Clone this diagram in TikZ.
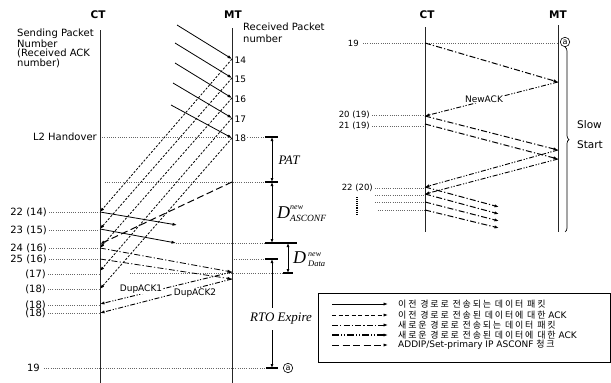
\documentclass[tikz,border=0pt]{standalone}
\usepackage{fontspec}
\setmainfont{DejaVu Sans}
\newfontfamily\krf[LetterSpace=20]{Noto Sans CJK KR}
\newfontfamily\tms{Liberation Serif}
\usetikzlibrary{arrows.meta,decorations.pathreplacing}
\tikzset{
 lane/.style={line width=1pt, black!85},
 tip/.style={-{Latex[length=4.5pt,width=3.2pt]}},
 olddata/.style={tip, line width=0.8pt},
 oldack/.style={tip, line width=0.8pt, dash pattern=on 2.2pt off 1.6pt},
 newdata/.style={tip, line width=0.8pt, dash pattern=on 6pt off 2.2pt on 1.2pt off 2.2pt},
 newack/.style={tip, line width=0.9pt, dash pattern=on 5pt off 1.8pt on 1.2pt off 1.5pt on 1.2pt off 1.8pt},
 asconf/.style={tip, line width=1pt, dash pattern=on 7pt off 3.5pt},
 guide/.style={line width=0.45pt, black!60, dash pattern=on 1pt off 1.2pt},
 tick/.style={line width=1.1pt},
 dim/.style={line width=1pt, {Latex[length=4pt,width=3pt]}-{Latex[length=4pt,width=3pt]}},
 lbl/.style={inner sep=0pt, font=\fontsize{10}{11}\selectfont},
 nlbl/.style={inner sep=0.5pt, fill=white, anchor=west, font=\fontsize{9}{10}\selectfont},
 slbl/.style={inner sep=0pt, font=\fontsize{8.5}{9}\selectfont},
 head/.style={inner sep=0pt, font=\fontsize{10.5}{11}\selectfont\bfseries},
 onl/.style={fill=white, inner sep=0.8pt, font=\fontsize{9}{10}\selectfont},
 circ/.style={circle, draw, line width=0.6pt, inner sep=0.5pt, minimum size=9.5pt, font=\fontsize{8}{8}\selectfont},
 tim/.style={inner sep=0pt, font=\tms\itshape\fontsize{13}{14}\selectfont},
 leg/.style={inner sep=0pt, anchor=west, font=\fontsize{9}{10}\selectfont},
}
\begin{document}
\begin{tikzpicture}[x=1pt,y=-1pt]
\useasboundingbox (0,0) rectangle (611,383);

% ---------------- LEFT DIAGRAM ----------------
\node[head] (ctL) at (98,15) {CT};
\node[head] (mtL) at (233,15) {MT};
\coordinate (cLt) at (100,30); \coordinate (cLb) at (100,383);
\coordinate (mLt) at (232,28); \coordinate (mLb) at (232,383);

\node[lbl, anchor=north west, align=left, font=\fontsize{10}{9.4}\selectfont] (sendlbl) at (17,29)
 {Sending Packet\\Number\\(Received ACK\\number)};
\node[lbl, anchor=north west, align=left, font=\fontsize{10}{11.7}\selectfont] (recvlbl) at (243,23)
 {Received Packet\\number};
\node[lbl, anchor=east] (l2) at (97,137) {L2 Handover};

% CT-side labels
\node[lbl, anchor=east] (l22) at (47,212) {22 (14)};
\node[lbl, anchor=east] (l23) at (47,230) {23 (15)};
\node[lbl, anchor=east] (l24) at (47,248) {24 (16)};
\node[lbl, anchor=east] (l25) at (47,259) {25 (16)};
\node[lbl, anchor=east] (l17) at (46,274) {(17)};
\node[lbl, anchor=east] (l18a) at (46,289) {(18)};
\node[lbl, anchor=east] (l18b) at (46,305) {(18)};
\node[lbl, anchor=east] (l18c) at (46,313) {(18)};
\node[lbl, anchor=east] (l19) at (40,368) {19};

% points
\coordinate (c212) at (100,212);
\coordinate (c229) at (100,229);
\coordinate (c244) at (100,244);
\coordinate (c248) at (100,248);
\coordinate (c259) at (100,259);
\coordinate (c272) at (100,271);
\coordinate (c289) at (100,289);
\coordinate (c304) at (100,304);
\coordinate (c313) at (100,313);
\coordinate (c137) at (100,137);
\coordinate (m59) at (232,59);
\coordinate (m78) at (232,78);
\coordinate (m98) at (232,98);
\coordinate (m118) at (232,118);
\coordinate (m138) at (232,138);
\coordinate (m182) at (232,182);
\coordinate (m259) at (232,259);
\coordinate (m272) at (232,272);
\coordinate (m279) at (232,279);
\coordinate (s14) at (177,25);
\coordinate (s15) at (175,43);
\coordinate (s16) at (175,63);
\coordinate (s17) at (173,83);
\coordinate (s18) at (171,105);
\coordinate (e22) at (177,225);
\coordinate (e23) at (176,243);
\coordinate (g182) at (105,182);
\coordinate (g273) at (130,273);
% dimension points
\coordinate (p1) at (272,137);
\coordinate (p2) at (272,182);
\coordinate (p3) at (272,243);
\coordinate (q1) at (288,243);
\coordinate (q2) at (288,273);
\coordinate (r1) at (272,259);
\coordinate (r2) at (272,368);

% guides
\draw[guide] (c137) -- ([xshift=-7pt]p1);
\draw[guide] (g182) -- ([xshift=-7pt]p2);
\draw[guide] (e23) -- ([xshift=-7pt]p3);
\draw[guide] (m259) -- ([xshift=-7pt]r1);
\draw[guide] (g273) -- ([xshift=-5pt]q2);
\draw[guide] ([xshift=2pt]l22.east) -- (l22.east -| cLt);
\draw[guide] ([xshift=2pt]l23.east) -- (l23.east -| cLt);
\draw[guide] ([xshift=2pt]l24.east) -- (l24.east -| cLt);
\draw[guide] ([xshift=2pt]l25.east) -- (l25.east -| cLt);
\draw[guide] ([xshift=2pt]l17.east) -- (l17.east -| cLt);
\draw[guide] ([xshift=2pt]l18a.east) -- (l18a.east -| cLt);
\draw[guide] ([xshift=2pt]l18b.east) -- (l18b.east -| cLt);
\draw[guide] ([xshift=2pt]l18c.east) -- (l18c.east -| cLt);
\draw[guide] ([xshift=4pt]l19.east) -- ([xshift=-6pt]r2);

% lanes
\draw[lane] (cLt) -- (cLb);
\draw[lane] (mLt) -- (mLb);

% old path data
\draw[olddata] (s14) -- (m59);
\draw[olddata] (s15) -- (m78);
\draw[olddata] (s16) -- (m98);
\draw[olddata] (s17) -- (m118);
\draw[olddata] (s18) -- (m138);
% old path ACKs
\draw[oldack] (m59) -- (c212);
\draw[oldack] (m78) -- (c229);
\draw[oldack] (m98) -- (c248);
\draw[oldack] (m118) -- (c272);
\draw[oldack] (m138) -- (c289);
% data sent on old path after handover
\draw[olddata] (c212) -- (e22);
\draw[olddata] (c229) -- (e23);
% ASCONF
\draw[asconf] (m182) -- (c244);
% new path data
\draw[newdata] (c248) -- (m272);
\draw[newdata] (c259) -- (m279);
% dup ACKs
\draw[newack] (m272) -- (c304);
\draw[newack] (m279) -- (c313);
\node[onl] (dup1) at (141,289) {DupACK1};
\node[onl] (dup2) at (195,293) {DupACK2};

% MT numbers
\node[nlbl] (n14) at (234,60) {14};
\node[nlbl] (n15) at (234,79) {15};
\node[nlbl] (n16) at (234,99) {16};
\node[nlbl] (n17) at (234,119) {17};
\node[nlbl] (n18) at (234,138) {18};

% dimension markers
\draw[tick] ([xshift=-7pt]p1) -- ([xshift=6pt]p1);
\draw[tick] ([xshift=-7pt]p2) -- ([xshift=6pt]p2);
\draw[tick] ([xshift=-7pt]p3) -- ([xshift=9pt]q1);
\draw[tick] ([xshift=-5pt]q2) -- ([xshift=5pt]q2);
\draw[tick] ([xshift=-7pt]r1) -- ([xshift=6pt]r1);
\draw[tick] ([xshift=-6pt]r2) -- ([xshift=6pt]r2);
\draw[dim] (p1) -- (p2);
\draw[dim] (p2) -- (p3);
\draw[dim] (q1) -- (q2);
\draw[dim] (r1) -- (r2);
\node[tim] (pat) at (289,160) {PAT};
\node[tim, anchor=base west] (dasc) at (277,218) {\fontsize{18}{18}\selectfont D\rlap{\raisebox{9pt}{\fontsize{8}{8}\selectfont new}}\raisebox{-3pt}{\fontsize{9.5}{9.5}\selectfont ASCONF}};
\node[tim, anchor=base west] (ddat) at (293,263) {\fontsize{18}{18}\selectfont D\hspace{2pt}\rlap{\raisebox{7pt}{\fontsize{8}{8}\selectfont new}}\raisebox{-3pt}{\fontsize{8.5}{8.5}\selectfont Data}};
\node[tim, fill=white, inner ysep=5pt, inner xsep=1pt] (rto) at (281,319) {RTO Expire};
\node[circ] (ca1) at (288,368) {a};

% ---------------- RIGHT DIAGRAM ----------------
\node[head] (ctR) at (427,15) {CT};
\node[head] (mtR) at (558,15) {MT};
\coordinate (cRt) at (425,27); \coordinate (cRb) at (425,232);
\coordinate (mRt) at (558,25); \coordinate (mRb) at (558,232);

\node[slbl, anchor=east] (r19) at (359,43) {19};
\node[slbl, anchor=east] (r20) at (370,115) {20 (19)};
\node[slbl, anchor=east] (r21) at (370,126) {21 (19)};
\node[slbl, anchor=east] (r22) at (373,188) {22 (20)};

\coordinate (R43) at (425,43);
\coordinate (M82) at (558,82);
\coordinate (R117) at (425,116);
\coordinate (R124) at (425,124);
\coordinate (M150) at (558,150);
\coordinate (M159) at (558,159);
\coordinate (R187) at (425,187);
\coordinate (R194) at (425,194);
\coordinate (R202) at (425,202);
\coordinate (R210) at (425,210);
\coordinate (E1) at (499,207);
\coordinate (E2) at (499,214);
\coordinate (E3) at (499,221);
\coordinate (E4) at (499,228);
\coordinate (G195) at (375,195);
\coordinate (G202) at (375,202);
\coordinate (G210) at (378,210);
\coordinate (vd1) at (357,197);
\coordinate (vd2) at (357,215);
\coordinate (brb) at (565,232);

\draw[guide] ([xshift=4pt]r19.east) -- (r19.east -| mRt);
\draw[guide] ([xshift=2pt]r20.east) -- (r20.east -| cRt);
\draw[guide] ([xshift=2pt]r21.east) -- (r21.east -| cRt);
\draw[guide] ([xshift=2pt]r22.east) -- (r22.east -| cRt);
\draw[guide] (G195) -- (G195 -| cRt);
\draw[guide] (G202) -- (G202 -| cRt);
\draw[guide] (G210) -- (G210 -| cRt);
\draw[line width=1.4pt, dash pattern=on 0.9pt off 1pt] (vd1) -- (vd2);

\draw[lane] (cRt) -- (cRb);
\draw[lane] (mRt) -- (mRb);

\draw[newdata, line width=1pt] (R43) -- (M82);
\draw[newack] (M82) -- (R117);
\node[onl] (newack) at (484,99) {NewACK};
\draw[newdata, line width=1pt] (R117) -- (M150);
\draw[newdata, line width=1pt] (R124) -- (M159);
\draw[newack] (M150) -- (R187);
\draw[newack] (M159) -- (R194);
\draw[newdata, line width=1pt] (R187) -- (E1);
\draw[newdata, line width=1pt] (R194) -- (E2);
\draw[newdata, line width=1pt] (R202) -- (E3);
\draw[newdata, line width=1pt] (R210) -- (E4);

\node[circ] (ca2) at (565,42) {a};
\draw[decorate, decoration={brace, amplitude=4pt}, line width=0.7pt] (ca2.south) -- (brb);
\node[lbl, anchor=west, align=left, font=\fontsize{10.5}{20}\selectfont] (slow) at (577,135) {Slow\\Start};

% ---------------- LEGEND ----------------
\node[draw, line width=0.8pt, minimum width=292pt, minimum height=69pt, anchor=north west, inner sep=0pt] (legend) at (318,293) {};
\coordinate (la1) at (332,304); \coordinate (lb1) at (388,304);
\coordinate (la2) at (332,315); \coordinate (lb2) at (388,315);
\coordinate (la3) at (332,325); \coordinate (lb3) at (388,325);
\coordinate (la4) at (332,335); \coordinate (lb4) at (388,335);
\coordinate (la5) at (332,345); \coordinate (lb5) at (388,345);
\draw[olddata] (la1) -- (lb1);
\draw[oldack, line width=1pt, dash pattern=on 4pt off 2.5pt] (la2) -- (lb2);
\draw[newdata] (la3) -- (lb3);
\draw[newack, line width=1.1pt, dash pattern=on 7pt off 2pt on 1.2pt off 1.6pt on 1.2pt off 2pt] (la4) -- (lb4);
\draw[asconf] (la5) -- (lb5);
\node[leg] (lt1) at (398,304) {{\krf 이전 경로로 전송되는 데이터 패킷}};
\node[leg] (lt2) at (398,315) {{\krf 이전 경로로 전송된 데이터에 대한} ACK};
\node[leg] (lt3) at (398,325) {{\krf 새로운 경로로 전송되는 데이터 패킷}};
\node[leg] (lt4) at (398,335) {{\krf 새로운 경로로 전송된 데이터에 대한} ACK};
\node[leg] (lt5) at (398,345) {ADDIP/Set-primary IP ASCONF {\krf 청크}};
\end{tikzpicture}
\end{document}
